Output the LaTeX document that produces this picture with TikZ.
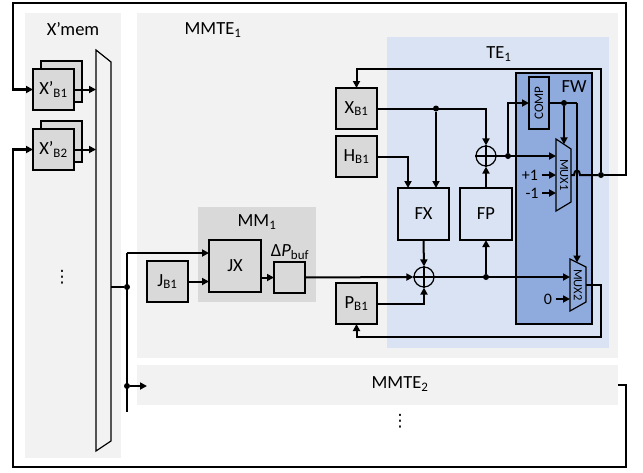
\documentclass[tikz,border=0pt]{standalone}
\usepackage{fontspec}
\setmainfont{Carlito}
\newfontfamily\symfont{DejaVu Sans}
\usetikzlibrary{arrows.meta}
\definecolor{panelgray}{HTML}{F2F2F2}
\definecolor{boxgray}{HTML}{D9D9D9}
\definecolor{tebg}{HTML}{DAE3F3}
\definecolor{fwblue}{HTML}{8FAADC}

\begin{document}
\begin{tikzpicture}[x=1pt, y=-1pt,
  font=\fontsize{18.5}{20}\selectfont,
  panel/.style={fill=panelgray, anchor=north west, inner sep=0pt, outer sep=0pt},
  box/.style={draw, line width=1.2pt, anchor=north west, inner sep=0pt, outer sep=0pt},
  gbox/.style={box, fill=boxgray, minimum width=41, minimum height=41},
  wire/.style={line width=2pt},
  arr/.style={wire, -{Triangle[length=7pt,width=7pt]}},
  loop/.style={arr, line width=2.6pt},
  dot/.style={circle, fill, inner sep=0pt, minimum size=6pt},
  sum/.style={circle, draw, line width=1.2pt, inner sep=0pt, minimum size=20pt},
  tiny/.style={font=\fontsize{16}{18}\selectfont},
  vdot/.style={font=\symfont\fontsize{17}{18}\selectfont}]
  \useasboundingbox (0,0) rectangle (643,472);

  % Background panels
  \node[panel, minimum width=96, minimum height=445] (xmem) at (25,13) {};
  \node[panel, minimum width=481, minimum height=345] (mmteone) at (137,13) {};
  \node[panel, minimum width=481, minimum height=40] (mmtetwo) at (137,365) {};
  \node[panel, fill=boxgray, minimum width=118, minimum height=95] (mmone) at (198,207) {};
  \node[panel, fill=tebg, minimum width=222, minimum height=311] (teone) at (387,37) {};
  \node[box, fill=fwblue, minimum width=76, minimum height=251] (fw) at (516,73) {};

  % Panel titles
  \node (xmemlbl) at (73,29) {X’mem};
  \node (mmteonelbl) at (213,30) {MMTE\textsubscript{1}};
  \node (mmtetwolbl) at (400,384) {MMTE\textsubscript{2}};
  \node (teonelbl) at (499,54) {TE\textsubscript{1}};
  \node (fwlbl) at (574,87) {FW};
  \node (mmonelbl) at (257,222) {MM\textsubscript{1}};
  \node[vdot] (xmemdots) at (62,277) {⋮};
  \node[vdot] (mmtedots) at (400,421) {⋮};

  % X' buffers (stacked) and the big mux
  \node[gbox] (xbonebk) at (41,61) {};
  \node[gbox] (xbone) at (33,69) {X’\textsubscript{B1}};
  \node[gbox] (xbtwobk) at (41,121) {};
  \node[gbox] (xbtwo) at (33,129) {X’\textsubscript{B2}};
  \draw[line width=1.2pt] (96,50) -- (111,62) -- (111,441) -- (96,451) -- cycle;
  \coordinate (bigmuxin) at (96,0);
  \coordinate (bigmuxout) at (111,287);

  % MM1 contents
  \node[gbox] (jbone) at (147,261) {J\textsubscript{B1}};
  \node[box, fill=boxgray, minimum width=52, minimum height=52] (jx) at (209,240) {JX};
  \node[box, fill=boxgray, minimum width=31, minimum height=31] (dp) at (274,262) {};
  \node (dplbl) at (290,252) {Δ\textit{P}\textsubscript{buf}};

  % TE1 contents
  \node[gbox] (xb) at (336,88) {X\textsubscript{B1}};
  \node[gbox] (hb) at (336,136) {H\textsubscript{B1}};
  \node[gbox] (pb) at (336,283) {P\textsubscript{B1}};
  \node[box, minimum width=51, minimum height=52] (fx) at (398,188) {FX};
  \node[box, minimum width=52, minimum height=52] (fp) at (460,188) {FP};
  \node[sum] (sumx) at (486,156) {};
  \draw[line width=1.2pt] (sumx.north) -- (sumx.south) (sumx.west) -- (sumx.east);
  \node[sum] (sump) at (424,277) {};
  \draw[line width=1.2pt] (sump.north) -- (sump.south) (sump.west) -- (sump.east);

  % FW contents
  \node[box, fill=fwblue, minimum width=20, minimum height=52] (comp) at (529,77) {};
  \node[rotate=90, font=\fontsize{13}{14}\selectfont] (complbl) at (comp.center) {COMP};
  \draw[line width=1.2pt] (556,139) -- (571,149) -- (571,202) -- (556,211) -- cycle;
  \node[rotate=-90, font=\fontsize{12.5}{14}\selectfont] (muxonelbl) at (564,175) {MUX1};
  \draw[line width=1.2pt] (570,259) -- (586,267) -- (586,302) -- (570,311) -- cycle;
  \node[rotate=-90, font=\fontsize{12.5}{14}\selectfont] (muxtwolbl) at (578,285) {MUX2};
  \node[tiny] (pone) at (530,175) {+1};
  \node[tiny] (mone) at (532,193) {-1};
  \node[tiny] (zero) at (548,299) {0};

  % Ports and corners
  \coordinate (muxonein) at (556,156);
  \coordinate (muxonesel) at (564,144.3);
  \coordinate (muxoneout) at (571,175);
  \coordinate (muxtwoin) at (570,277);
  \coordinate (muxtwosel) at (577,262.5);
  \coordinate (muxtwoout) at (586,285);
  \coordinate (compright) at (577,103);
  \coordinate (hbdown) at (408,188);
  \coordinate (xbret) at (601,69);
  \coordinate (pbret) at (601,337);
  \coordinate (bustop) at (127,253);
  \coordinate (busend) at (127,412);
  \coordinate (mmtetwoin) at (147,386);
  \coordinate (looptr) at (626,3);
  \coordinate (looptl) at (13,3);
  \coordinate (loopbr) at (626,467);
  \coordinate (loopbl) at (13,467);

  % X' buffers into the big mux, then the bus
  \draw[arr] (xbone.east) -- (xbone.east -| bigmuxin);
  \draw[arr] (xbtwo.east) -- (xbtwo.east -| bigmuxin);
  \node[dot] (busdot) at (127,287) {};
  \node[dot] (busdottwo) at (127,386) {};
  \draw[wire] (bigmuxout) -- (busdot);
  \draw[wire] (bustop) -- (busend);
  \draw[arr] (bustop) -- (bustop -| jx.west);
  \draw[arr] (busdottwo) -- (mmtetwoin);

  % MM1 data path
  \draw[arr] (jbone.east) -- (jbone.east -| jx.west);
  \draw[arr] (jx.east |- dp.west) -- (dp.west);
  \draw[arr] (dp.east) -- (sump.west);

  % TE1 data path
  \draw[arr] (pb.east) -| (sump.south);
  \draw[arr] (fx.south) -- (sump.north);
  \node[dot] (fpdot) at (486,277) {};
  \draw[arr] (sump.east) -- (muxtwoin);
  \draw[arr] (fpdot) -- (fp.south);
  \draw[arr] (fp.north) -- (sumx.south);
  \node[dot] (xbdot) at (436,108.5) {};
  \draw[arr] (xb.east) -| (sumx.north);
  \draw[arr] (xbdot) -- (xbdot |- fx.north);
  \draw[arr] (hb.east) -| (hbdown);
  \node[dot] (compdot) at (508,156) {};
  \draw[arr] (sumx.east) -- (muxonein);
  \draw[arr] (compdot) |- (comp.west);

  % FW control
  \node[dot] (seldot) at (564,103) {};
  \draw[wire] (comp.east) -- (compright);
  \draw[arr] (compright) -- (muxtwosel);
  \draw[arr] (seldot) -- (muxonesel);
  \draw[arr] (pone.east) -- (pone.east -| muxonein);
  \draw[arr] (mone.east) -- (mone.east -| muxonein);
  \draw[arr] (zero.east) -- (zero.east -| muxtwoin);

  % MUX outputs back to the buffers
  \node[dot] (fbdot) at (601,175) {};
  \draw[wire] (muxoneout) -- (574,175) .. controls (574,169) and (580,169) .. (580,175) -- (fbdot);
  \draw[arr] (fbdot) -- (xbret) -| (xb.north);
  \draw[arr] (muxtwoout) -| (pbret) -| (pb.south);
  \draw[loop] (fbdot) -- (fbdot -| looptr) -- (looptr) -- (looptl) |- (xbone.west);
  \draw[loop] (mmtetwo.east) -| (loopbr) -- (loopbl) |- (xbtwo.west);
\end{tikzpicture}
\end{document}
